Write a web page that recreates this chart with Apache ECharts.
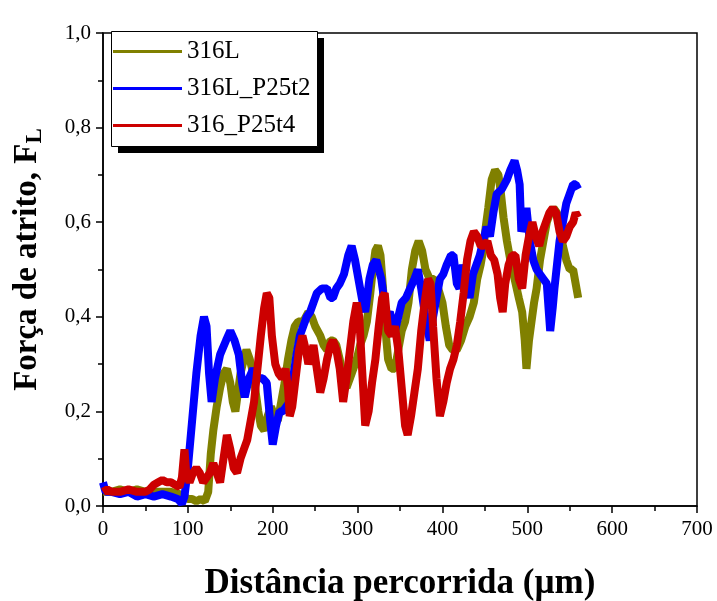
<!DOCTYPE html>
<html>
<head>
<meta charset="utf-8">
<script src="https://cdn.jsdelivr.net/npm/echarts@6/dist/echarts.min.js"></script>
<style>
  html, body { margin: 0; padding: 0; background: #fff; }
  #chart { width: 717px; height: 601px; }
</style>
</head>
<body>
<div id="chart"></div>
<script>
// names of the series (legend order)
var seriesNames = ['316L', '316L_P25t2', '316_P25t4'];
var xTicks = [0, 100, 200, 300, 400, 500, 600, 700];
var yTicks = [0, 0.2, 0.4, 0.6, 0.8, 1.0];

// 316L  [distance um, friction]
var s316L = [[0,0.03],[10,0.03],[20,0.035],[30,0.03],[40,0.035],[50,0.03],[60,0.03],[70,0.03],[80,0.03],[90,0.025],[96,0.02],[100,0.015],[105,0.015],[110,0.01],[115,0.015],[120,0.01],[124,0.03],[127,0.11],[130,0.16],[134,0.21],[138,0.25],[142,0.28],[146,0.29],[150,0.26],[153,0.22],[156,0.20],[159,0.24],[162,0.28],[166,0.31],[169,0.33],[173,0.31],[177,0.28],[180,0.24],[183,0.2],[186,0.17],[190,0.16],[194,0.19],[198,0.21],[202,0.19],[206,0.18],[210,0.22],[214,0.26],[218,0.31],[222,0.35],[226,0.38],[230,0.39],[236,0.39],[242,0.41],[246,0.40],[250,0.38],[256,0.36],[260,0.34],[264,0.33],[268,0.35],[271,0.35],[275,0.34],[279,0.31],[283,0.27],[287,0.25],[291,0.27],[295,0.29],[299,0.31],[303,0.34],[307,0.36],[311,0.39],[315,0.45],[318,0.50],[321,0.54],[324,0.55],[327,0.53],[330,0.46],[333,0.37],[336,0.31],[340,0.29],[344,0.29],[348,0.33],[352,0.37],[356,0.39],[360,0.43],[364,0.50],[368,0.54],[372,0.56],[376,0.54],[380,0.50],[385,0.48],[390,0.48],[395,0.46],[400,0.43],[404,0.38],[408,0.34],[412,0.33],[417,0.33],[422,0.35],[427,0.38],[432,0.40],[437,0.43],[441,0.48],[445,0.51],[448,0.54],[451,0.59],[454,0.63],[458,0.69],[462,0.71],[466,0.70],[469,0.66],[472,0.61],[476,0.56],[480,0.52],[485,0.48],[490,0.44],[494,0.41],[497,0.35],[499,0.29],[502,0.35],[505,0.39],[508,0.43],[511,0.46],[515,0.52],[519,0.56],[523,0.6],[527,0.62],[531,0.63],[535,0.62],[539,0.58],[542,0.55],[546,0.52],[550,0.5],[554,0.5],[557,0.47],[560,0.44]];

// 316L_P25t2
var sP25t2 = [[0,0.05],[3,0.03],[10,0.03],[20,0.025],[30,0.03],[40,0.02],[50,0.025],[60,0.02],[70,0.025],[80,0.02],[88,0.015],[93,0.005],[96,0.02],[100,0.08],[105,0.18],[110,0.28],[115,0.36],[119,0.40],[122,0.38],[125,0.28],[128,0.22],[132,0.27],[138,0.32],[145,0.35],[150,0.37],[155,0.35],[160,0.32],[164,0.26],[167,0.23],[172,0.27],[177,0.29],[183,0.27],[188,0.27],[193,0.26],[197,0.18],[200,0.13],[204,0.17],[208,0.2],[212,0.2],[216,0.21],[220,0.22],[224,0.27],[228,0.32],[232,0.36],[236,0.38],[240,0.40],[244,0.41],[248,0.43],[252,0.45],[258,0.46],[264,0.46],[268,0.44],[271,0.44],[275,0.46],[279,0.47],[284,0.49],[289,0.53],[293,0.55],[297,0.52],[303,0.46],[306,0.43],[309,0.41],[314,0.48],[318,0.51],[322,0.52],[328,0.48],[334,0.40],[338,0.41],[344,0.37],[348,0.40],[352,0.43],[357,0.44],[362,0.46],[367,0.48],[371,0.50],[375,0.46],[379,0.41],[385,0.35],[389,0.40],[393,0.44],[397,0.48],[401,0.49],[405,0.51],[410,0.53],[413,0.53],[417,0.47],[420,0.46],[424,0.51],[428,0.47],[432,0.44],[436,0.49],[440,0.51],[444,0.53],[448,0.56],[452,0.59],[456,0.57],[460,0.62],[464,0.66],[470,0.67],[476,0.69],[480,0.71],[485,0.73],[488,0.71],[491,0.68],[493,0.58],[496,0.6],[499,0.63],[503,0.56],[507,0.52],[511,0.50],[515,0.49],[519,0.48],[523,0.47],[525,0.42],[527,0.37],[530,0.42],[532,0.46],[535,0.51],[538,0.56],[542,0.6],[546,0.64],[550,0.66],[554,0.68],[557,0.68],[560,0.67]];

// 316_P25t4
var sP25t4 = [[0,0.03],[5,0.035],[10,0.03],[20,0.03],[30,0.035],[40,0.03],[50,0.03],[55,0.035],[60,0.045],[65,0.05],[70,0.055],[75,0.05],[80,0.05],[85,0.045],[90,0.04],[93,0.06],[96,0.12],[98,0.07],[102,0.05],[106,0.07],[110,0.08],[114,0.07],[118,0.05],[122,0.06],[126,0.07],[130,0.09],[134,0.07],[138,0.05],[142,0.10],[146,0.15],[150,0.12],[154,0.08],[158,0.07],[162,0.10],[166,0.12],[170,0.14],[174,0.18],[178,0.22],[182,0.29],[186,0.36],[190,0.42],[193,0.45],[196,0.44],[199,0.36],[203,0.30],[207,0.28],[211,0.27],[215,0.29],[218,0.25],[220,0.19],[223,0.21],[227,0.27],[231,0.33],[235,0.36],[239,0.33],[242,0.30],[245,0.32],[248,0.34],[252,0.29],[256,0.24],[260,0.27],[264,0.31],[268,0.34],[271,0.35],[275,0.33],[279,0.29],[283,0.22],[287,0.27],[291,0.33],[295,0.39],[299,0.43],[302,0.40],[305,0.3],[309,0.17],[313,0.20],[317,0.26],[321,0.31],[325,0.38],[329,0.44],[332,0.45],[336,0.37],[340,0.36],[344,0.38],[348,0.33],[352,0.25],[356,0.17],[359,0.15],[363,0.19],[367,0.24],[371,0.29],[375,0.37],[379,0.43],[383,0.48],[386,0.47],[389,0.38],[393,0.27],[397,0.19],[401,0.22],[405,0.26],[409,0.29],[413,0.31],[417,0.34],[421,0.39],[425,0.45],[429,0.52],[433,0.56],[437,0.58],[441,0.57],[445,0.55],[449,0.55],[453,0.56],[457,0.53],[461,0.52],[465,0.49],[468,0.44],[471,0.41],[474,0.47],[478,0.51],[482,0.53],[486,0.53],[490,0.48],[494,0.46],[498,0.53],[502,0.57],[506,0.6],[510,0.57],[514,0.55],[518,0.58],[522,0.6],[526,0.62],[530,0.63],[534,0.62],[538,0.58],[542,0.56],[546,0.57],[550,0.59],[554,0.6],[557,0.62],[560,0.61]];

var colors = ['#808000', '#0000ff', '#cc0000'];
var serif = '"Liberation Serif", "DejaVu Serif", serif';

var chart = echarts.init(document.getElementById('chart'), null, { renderer: 'canvas' });

var option = {
  animation: false,
  backgroundColor: '#fff',
  color: colors,
  grid: {
    left: 103,
    right: 20,
    top: 33,
    bottom: 95,
    outerBoundsMode: 'none',
    show: true,
    borderColor: '#000',
    borderWidth: 1.5,
    backgroundColor: 'transparent'
  },
  // legend frame with its drop shadow
  graphic: [
    { type: 'rect', left: 118, top: 38, z: 90, shape: { width: 206, height: 115 }, style: { fill: '#000' } },
    { type: 'rect', left: 111, top: 31, z: 91, shape: { width: 206, height: 115 }, style: { fill: '#fff', stroke: '#000', lineWidth: 1 } }
  ],
  legend: {
    orient: 'vertical',
    left: 111,
    top: 31,
    z: 100,
    data: seriesNames,
    icon: 'rect',
    itemWidth: 69,
    itemHeight: 3,
    itemGap: 12,
    padding: [8, 0, 0, 2],
    backgroundColor: 'transparent',
    borderWidth: 0,
    textStyle: { fontFamily: serif, fontSize: 25, color: '#000' }
  },
  xAxis: {
    type: 'value',
    min: xTicks[0],
    max: xTicks[xTicks.length - 1],
    interval: 100,
    name: 'Distância percorrida (µm)',
    nameLocation: 'middle',
    nameGap: 60,
    nameTextStyle: { fontFamily: serif, fontSize: 35, fontWeight: 'bold', color: '#000' },
    axisLine: { lineStyle: { color: '#000', width: 1.5 } },
    axisTick: { inside: false, length: 7, lineStyle: { color: '#000', width: 1.5 } },
    minorTick: { show: true, splitNumber: 2, length: 5, lineStyle: { color: '#000', width: 1.5 } },
    axisLabel: { fontFamily: serif, fontSize: 21, color: '#000', margin: 13 },
    splitLine: { show: false }
  },
  yAxis: {
    type: 'value',
    min: yTicks[0],
    max: yTicks[yTicks.length - 1],
    interval: 0.2,
    name: '{t|Força de atrito, F}{s|L}',
    nameLocation: 'middle',
    nameGap: 56,
    nameTextStyle: {
      color: '#000',
      padding: [0, 0, 0, 20],
      rich: {
        t: { fontFamily: serif, fontSize: 33, fontWeight: 'bold', color: '#000' },
        s: { fontFamily: serif, fontSize: 23, fontWeight: 'bold', color: '#000', padding: [16, 0, 0, 0] }
      }
    },
    axisLine: { show: true, lineStyle: { color: '#000', width: 1.5 } },
    axisTick: { show: true, inside: false, length: 7, lineStyle: { color: '#000', width: 1.5 } },
    minorTick: { show: true, splitNumber: 2, length: 5, lineStyle: { color: '#000', width: 1.5 } },
    axisLabel: {
      fontFamily: serif, fontSize: 21, color: '#000', margin: 12,
      formatter: function (v) { return v.toFixed(1).replace('.', ','); }
    },
    splitLine: { show: false }
  },
  series: [
    { name: seriesNames[0], type: 'line', data: s316L, showSymbol: false, lineStyle: { width: 8 }, z: 2 },
    { name: seriesNames[1], type: 'line', data: sP25t2, showSymbol: false, lineStyle: { width: 8 }, z: 3 },
    { name: seriesNames[2], type: 'line', data: sP25t4, showSymbol: false, lineStyle: { width: 8 }, z: 4 }
  ]
};

chart.setOption(option);
</script>
</body>
</html>
